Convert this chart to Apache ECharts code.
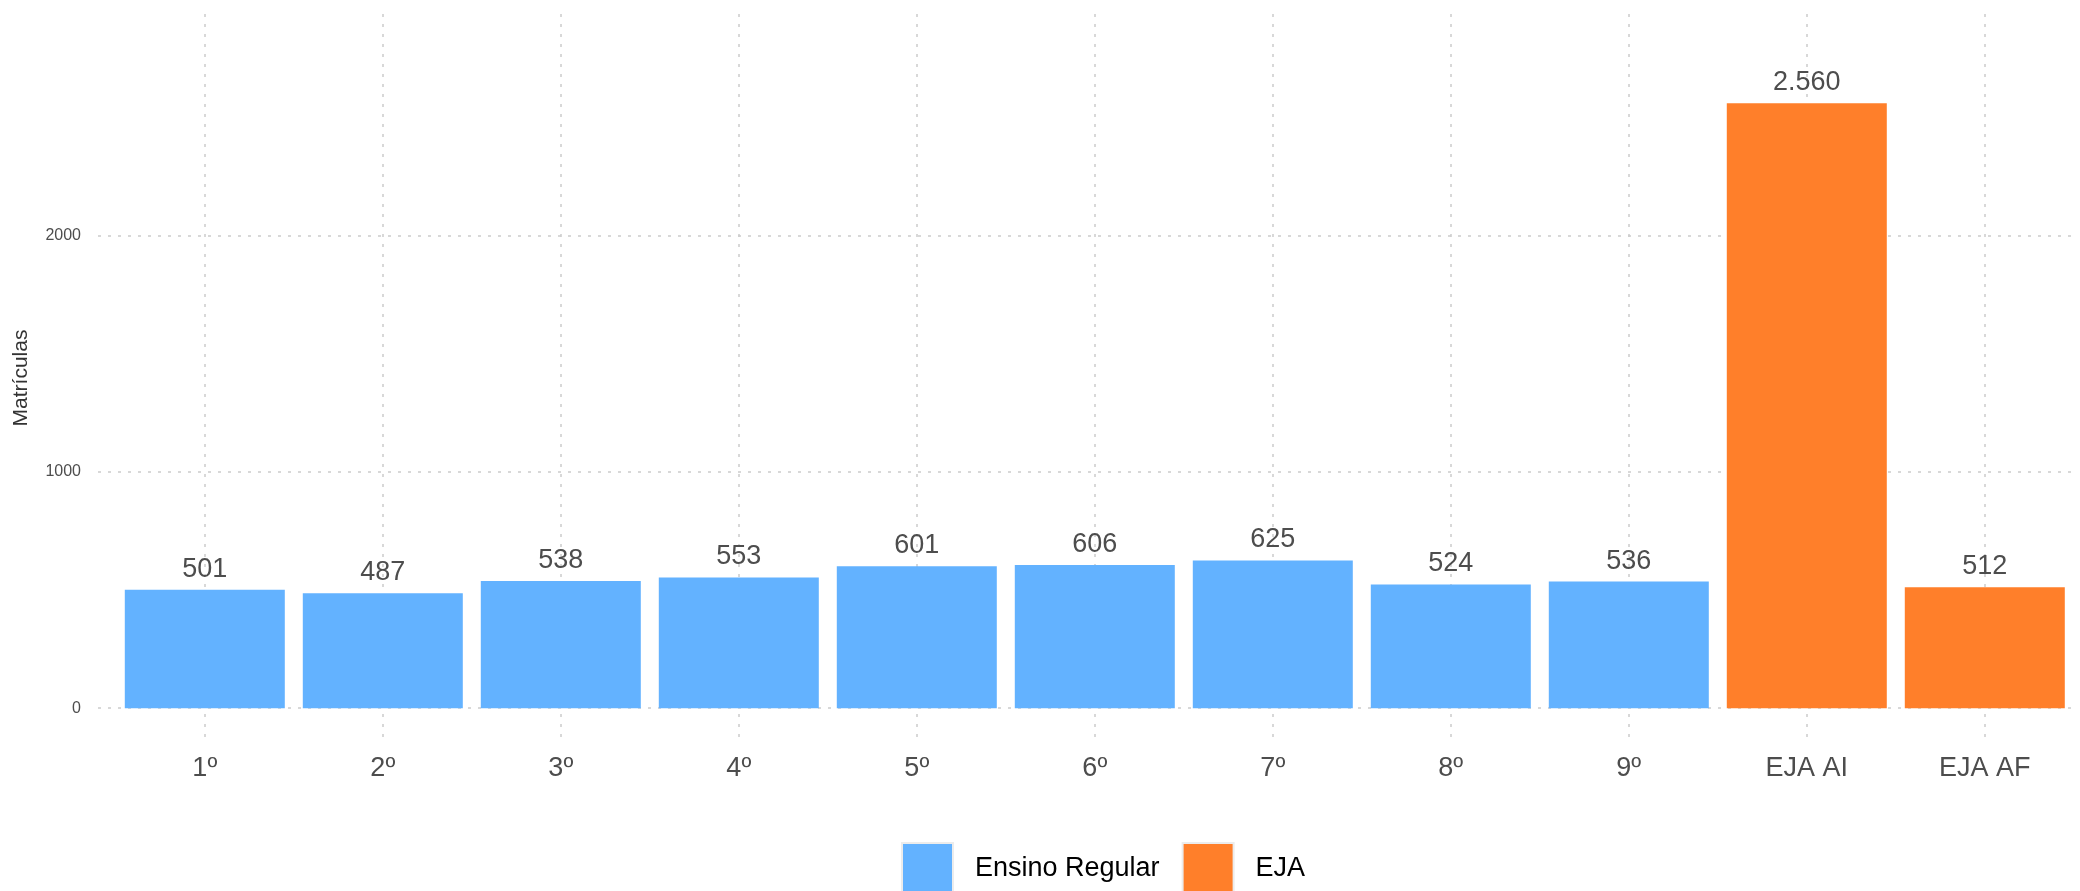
<!DOCTYPE html>
<html>
<head>
<meta charset="utf-8">
<script src="https://cdn.jsdelivr.net/npm/echarts@6/dist/echarts.min.js"></script>
<style>
  html, body { margin: 0; padding: 0; background: #fff; }
  #main { width: 2080px; height: 891px; }
</style>
</head>
<body>
<div id="main"></div>
<script>
// dados
var categorias = ['1º', '2º', '3º', '4º', '5º', '6º', '7º', '8º', '9º', 'EJA AI', 'EJA AF'];
var regular = [501, 487, 538, 553, 601, 606, 625, 524, 536];
var eja = [2560, 512];
var yTicks = [0, 1000, 2000];

var xIdx = categorias.map(function (c, i) { return i; });
var dadosRegular = regular.map(function (v, i) { return [i, v]; });
var dadosEja = eja.map(function (v, i) { return [regular.length + i, v]; });

function milhar(v) {
  return String(v).replace(/\B(?=(\d{3})+(?!\d))/g, '.');
}

var grade = { show: true, lineStyle: { color: '#cccccc', width: 1.5, type: [3, 7] } };
var rotulo = {
  show: true, position: 'top', distance: 7,
  fontFamily: 'Liberation Sans', fontSize: 27, color: '#4d4d4d',
  formatter: function (p) { return milhar(p.value[1]); }
};

var myChart = echarts.init(document.getElementById('main'));
var option = {
  backgroundColor: '#ffffff',
  animation: false,
  textStyle: { fontFamily: 'Liberation Sans' },
  grid: { left: 98, right: 3, top: 14, bottom: 149, containLabel: false },
  legend: {
    left: 901, top: 842, padding: 0,
    itemWidth: 51, itemHeight: 51, itemGap: 22,
    icon: 'rect',
    itemStyle: { borderColor: '#ececec', borderWidth: 2 },
    textStyle: { fontFamily: 'Liberation Sans', fontSize: 27, color: '#000', padding: [0, 0, 0, 17] },
    data: ['Ensino Regular', 'EJA']
  },
  xAxis: {
    type: 'value', min: -0.6, max: 10.518,
    axisLine: { show: false },
    axisTick: { show: false, customValues: xIdx },
    axisLabel: {
      customValues: xIdx, margin: 13,
      fontFamily: 'Liberation Sans', fontSize: 27, color: '#4d4d4d',
      formatter: function (v) { return categorias[Math.round(v)]; }
    },
    splitLine: grade
  },
  yAxis: {
    type: 'value', min: -143, max: 2938,
    name: 'Matrículas', nameLocation: 'middle', nameGap: 66, nameRotate: 90,
    nameTextStyle: { fontFamily: 'Liberation Sans', fontSize: 21, color: '#333' },
    axisLine: { show: false },
    axisTick: { show: false, customValues: yTicks },
    axisLabel: {
      customValues: yTicks, margin: 17,
      fontFamily: 'Liberation Sans', fontSize: 16, color: '#4d4d4d',
      formatter: function (v) { return String(v); }
    },
    splitLine: grade
  },
  series: [
    {
      name: 'Ensino Regular', type: 'bar', barWidth: 160, barGap: '-100%',
      itemStyle: { color: '#63b2ff' },
      label: rotulo,
      data: dadosRegular
    },
    {
      name: 'EJA', type: 'bar', barWidth: 160, barGap: '-100%',
      itemStyle: { color: '#ff7f2a' },
      label: rotulo,
      data: dadosEja
    }
  ]
};
myChart.setOption(option);
</script>
</body>
</html>
